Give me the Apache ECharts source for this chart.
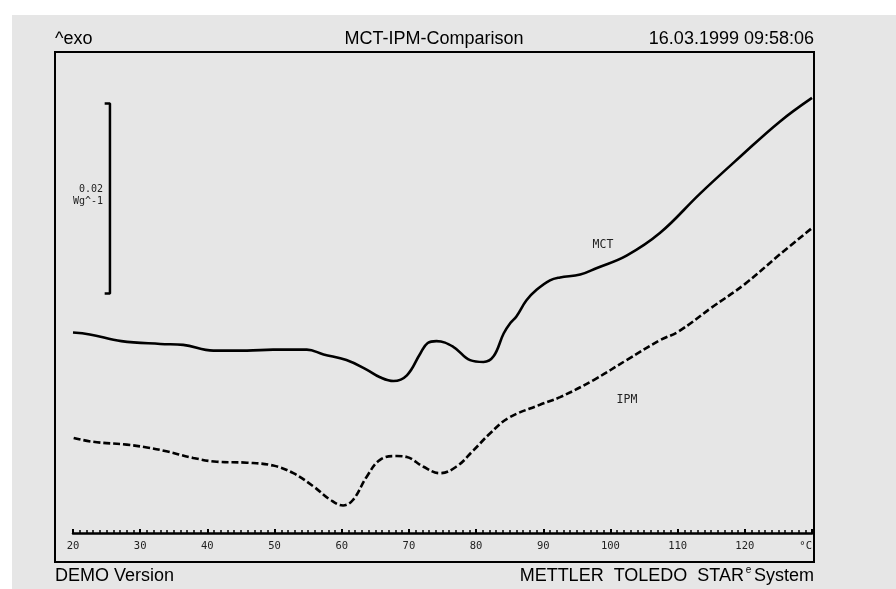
<!DOCTYPE html>
<html>
<head>
<meta charset="utf-8">
<script src="https://cdn.jsdelivr.net/npm/echarts@6/dist/echarts.min.js"></script>
<style>
  html, body { margin: 0; padding: 0; background: #ffffff; }
  #chart { width: 896px; height: 589px; }
</style>
</head>
<body>
<div id="chart"></div>
<script>
// Temperature axis (°C)
const xTicks = [20, 30, 40, 50, 60, 70, 80, 90, 100, 110, 120, 130];
const xTickText = ['20', '30', '40', '50', '60', '70', '80', '90', '100', '110', '120', '°C'];

// MCT heat flow curve: temperature (°C) and heat flow (W/g)
const mctTemp = [20.0, 22.5, 27.2, 33.0, 36.4, 40.9, 45.9, 49.8, 54.8, 57.3, 60.7, 63.7, 65.7, 67.7,
  69.7, 71.7, 72.8, 74.1, 76.6, 79.1, 81.1, 82.6, 84.1, 85.1, 86.0, 87.5, 89.0, 91.0, 92.5,
  95.5, 98.0, 102.4, 107.4, 113.3, 119.3, 125.2, 130.0];
const mctFlow = [0.0211, 0.0209, 0.0202, 0.0199, 0.0198, 0.0192, 0.0192, 0.0193, 0.0193, 0.0188, 0.0182,
  0.0172, 0.0164, 0.0160, 0.0166, 0.0189, 0.0200, 0.0202, 0.0196, 0.0182, 0.0180, 0.0186, 0.0210,
  0.0221, 0.0228, 0.0245, 0.0256, 0.0266, 0.0269, 0.0272, 0.0279, 0.0292, 0.0316, 0.0357, 0.0396,
  0.0433, 0.0458];

// IPM heat flow curve: temperature (°C) and heat flow (W/g)
const ipmTemp = [20.1, 23.0, 28.0, 31.0, 33.9, 37.9, 41.4, 45.9, 49.8, 52.8, 55.8, 58.3, 60.2, 61.7,
  63.7, 65.7, 68.2, 69.7, 72.1, 74.6, 77.1, 79.6, 82.1, 84.8, 89.5, 92.5, 97.5, 102.4, 107.4,
  110.1, 115.0, 120.0, 125.0, 130.0];
const ipmFlow = [0.0100, 0.0096, 0.0093, 0.0090, 0.0086, 0.0079, 0.0075, 0.0074, 0.0071, 0.0063, 0.0049,
  0.0035, 0.0029, 0.0035, 0.0059, 0.0077, 0.0081, 0.0080, 0.0070, 0.0063, 0.0070, 0.0087, 0.0105,
  0.0121, 0.0135, 0.0143, 0.0161, 0.0182, 0.0203, 0.0212, 0.0237, 0.0262, 0.0292, 0.0321];

// Heat-flow scale bar (0.02 W/g), placed near the left edge
const scaleBarTemp = [24.9, 25.5, 25.5, 24.9];
const scaleBarFlow = [0.0452, 0.0452, 0.0252, 0.0252];

const zip = (a, b) => a.map((v, i) => [v, b[i]]);

const sans = 'Liberation Sans, Arial, Helvetica, sans-serif';
const mono = 'DejaVu Sans Mono, Liberation Mono, monospace';
const bg = '#e6e6e6';

const chart = echarts.init(document.getElementById('chart'), null, { renderer: 'canvas' });

chart.setOption({
  backgroundColor: '#ffffff',
  animation: false,
  grid: { left: 73, right: 84, top: 58, bottom: 56, containLabel: false },
  xAxis: {
    type: 'value',
    min: 20,
    max: 130,
    interval: 10,
    axisLine: { show: true, lineStyle: { color: '#000', width: 2.5 } },
    axisTick: { show: true, inside: true, length: 4, lineStyle: { color: '#000', width: 2 } },
    minorTick: { show: true, splitNumber: 10, length: 3, lineStyle: { color: '#000', width: 1.5 } },
    splitLine: { show: false },
    axisLabel: {
      margin: 8,
      fontFamily: mono,
      fontSize: 10.5,
      color: '#222',
      alignMaxLabel: 'right',
      formatter: v => xTickText[xTicks.indexOf(v)]
    }
  },
  yAxis: { type: 'value', min: 0, max: 0.05, show: false },
  graphic: [
    { type: 'rect', z: -10, silent: true, shape: { x: 12, y: 15, width: 884, height: 574 }, style: { fill: bg } },
    { type: 'rect', z: 5, silent: true, shape: { x: 55, y: 52, width: 759, height: 510 },
      style: { fill: 'none', stroke: '#000', lineWidth: 2 } },
    { type: 'text', z: 5, x: 55, y: 39, style: { text: '^exo', font: '18px ' + sans, fill: '#000', textAlign: 'left', textVerticalAlign: 'middle' } },
    { type: 'text', z: 5, x: 434, y: 39, style: { text: 'MCT-IPM-Comparison', font: '18px ' + sans, fill: '#000', textAlign: 'center', textVerticalAlign: 'middle' } },
    { type: 'text', z: 5, x: 814, y: 39, style: { text: '16.03.1999 09:58:06', font: '18px ' + sans, fill: '#000', textAlign: 'right', textVerticalAlign: 'middle' } },
    { type: 'text', z: 5, x: 55, y: 576, style: { text: 'DEMO Version', font: '18px ' + sans, fill: '#000', textAlign: 'left', textVerticalAlign: 'middle' } },
    { type: 'text', z: 5, x: 744, y: 576, style: { text: 'METTLER  TOLEDO  STAR', font: '18px ' + sans, fill: '#000', textAlign: 'right', textVerticalAlign: 'middle' } },
    { type: 'text', z: 5, x: 748.5, y: 570, style: { text: 'e', font: '10px ' + sans, fill: '#000', textAlign: 'center', textVerticalAlign: 'middle' } },
    { type: 'text', z: 5, x: 814, y: 576, style: { text: 'System', font: '18px ' + sans, fill: '#000', textAlign: 'right', textVerticalAlign: 'middle' } },
    { type: 'text', z: 5, x: 103, y: 189, style: { text: '0.02', font: '10px ' + mono, fill: '#222', textAlign: 'right', textVerticalAlign: 'middle' } },
    { type: 'text', z: 5, x: 103, y: 201, style: { text: 'Wg^-1', font: '10px ' + mono, fill: '#222', textAlign: 'right', textVerticalAlign: 'middle' } },
    { type: 'text', z: 5, x: 603, y: 245, style: { text: 'MCT', font: '11.5px ' + mono, fill: '#222', textAlign: 'center', textVerticalAlign: 'middle' } },
    { type: 'text', z: 5, x: 627, y: 400, style: { text: 'IPM', font: '11.5px ' + mono, fill: '#222', textAlign: 'center', textVerticalAlign: 'middle' } }
  ],
  series: [
    {
      name: 'MCT',
      type: 'line',
      data: zip(mctTemp, mctFlow),
      smooth: 0.4,
      showSymbol: false,
      lineStyle: { color: '#000', width: 2.6 }
    },
    {
      name: 'IPM',
      type: 'line',
      data: zip(ipmTemp, ipmFlow),
      smooth: 0.4,
      showSymbol: false,
      lineStyle: { color: '#000', width: 2.6, type: [7, 3] }
    },
    {
      name: 'scale',
      type: 'line',
      data: zip(scaleBarTemp, scaleBarFlow),
      smooth: false,
      showSymbol: false,
      lineStyle: { color: '#000', width: 2.5, cap: 'square' }
    }
  ]
});
</script>
</body>
</html>
